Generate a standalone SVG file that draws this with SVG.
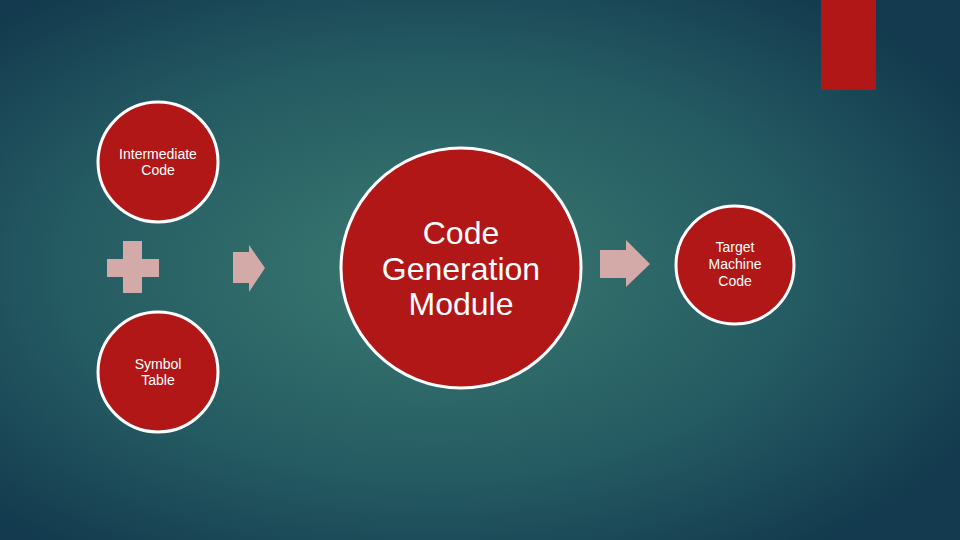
<svg xmlns="http://www.w3.org/2000/svg" width="960" height="540" viewBox="0 0 960 540">
<defs>
<radialGradient id="bg" cx="0.45" cy="0.5" r="0.65">
<stop offset="0" stop-color="#3a7a70"/>
<stop offset="0.6" stop-color="#245a62"/>
<stop offset="1" stop-color="#133a4e"/>
</radialGradient>
<style>
.c{fill:#b01716;stroke:#ffffff;stroke-width:3}
.t{font-family:"Liberation Sans",Arial,sans-serif;fill:#ffffff;text-anchor:middle}
.s{fill:#d4aaa9}
</style>
</defs>
<rect width="960" height="540" fill="url(#bg)"/>
<rect x="821" y="0" width="55" height="90" fill="#b01716"/>
<g id="intermediate"><circle class="c" cx="158" cy="162" r="60"/><text class="t" font-size="14"><tspan x="158" y="159">Intermediate</tspan><tspan x="158" y="175">Code</tspan></text></g>
<g id="plus"><path class="s" d="M123,241H142V259H159V277H142V293H123V277H107V259H123Z"/></g>
<g id="symbol"><circle class="c" cx="158" cy="372" r="60"/><text class="t" font-size="14"><tspan x="158" y="369">Symbol</tspan><tspan x="158" y="385">Table</tspan></text></g>
<g id="module"><circle class="c" cx="461" cy="268" r="120"/><text class="t" font-size="32"><tspan x="461" y="244">Code</tspan><tspan x="461" y="280">Generation</tspan><tspan x="461" y="315">Module</tspan></text></g>
<g id="target"><circle class="c" cx="735" cy="265" r="59"/><text class="t" font-size="14"><tspan x="735" y="252">Target</tspan><tspan x="735" y="269">Machine</tspan><tspan x="735" y="286">Code</tspan></text></g>
<g id="connectors">
<path class="s" d="M233,252H249V245L265,268L249,292V283H233Z"/>
<path class="s" d="M600,250H626V240L650,264L626,287V278H600Z"/>
</g>
</svg>
